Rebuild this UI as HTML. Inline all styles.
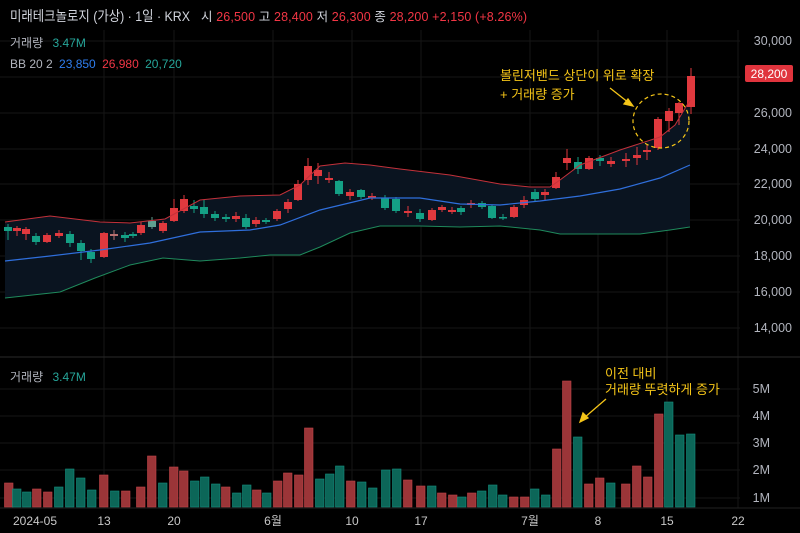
<!DOCTYPE html>
<html><head><meta charset="utf-8"><style>
body{margin:0;background:#000;width:800px;height:533px;overflow:hidden;font-family:"Liberation Sans","Noto Sans CJK KR",sans-serif}
svg{display:block}
text{font-family:"Liberation Sans","Noto Sans CJK KR",sans-serif}
</style></head><body>
<svg id="s" width="800" height="533" xmlns="http://www.w3.org/2000/svg">
<rect width="800" height="533" fill="#000"/>
<g id="grid" stroke="#161616" stroke-width="1"></g>
<path id="band" fill="#0a1420"/>
<g id="c"></g>
<g id="v"></g>
<polyline id="up" fill="none" stroke="#c3313a" stroke-width="1"/>
<polyline id="mid" fill="none" stroke="#2f6fdc" stroke-width="1.2"/>
<polyline id="lo" fill="none" stroke="#1f8a5c" stroke-width="1"/>
<line x1="0" y1="357" x2="800" y2="357" stroke="#2a2a2a"/>
<line x1="0" y1="508" x2="800" y2="508" stroke="#222"/>
<g font-size="12.5" fill="#b2b5be" text-anchor="end">
<text x="792" y="45">30,000</text><text x="792" y="117">26,000</text><text x="792" y="153">24,000</text><text x="792" y="188">22,000</text><text x="792" y="224">20,000</text><text x="792" y="260">18,000</text><text x="792" y="296">16,000</text><text x="792" y="332">14,000</text>
<text x="770" y="393">5M</text><text x="770" y="420">4M</text><text x="770" y="447">3M</text><text x="770" y="474">2M</text><text x="770" y="502">1M</text>
</g>
<rect x="745" y="65" width="48" height="17" rx="2" fill="#e0343d"/>
<text x="769" y="78" font-size="12" fill="#fff" text-anchor="middle">28,200</text>
<g font-size="12" fill="#c8c8c8" text-anchor="middle">
<text x="35" y="525">2024-05</text><text x="104" y="525">13</text><text x="174" y="525">20</text><text x="273" y="525">6월</text><text x="352" y="525">10</text><text x="421" y="525">17</text><text x="530" y="525">7월</text><text x="598" y="525">8</text><text x="667" y="525">15</text><text x="738" y="525">22</text>
</g>
<text x="10" y="21" font-size="14" fill="#d1d4dc" textLength="180" lengthAdjust="spacingAndGlyphs">미래테크놀로지 (가상) · 1일 · KRX</text>
<text x="201" y="21" font-size="12.5" fill="#d1d4dc" textLength="326" lengthAdjust="spacing">시 <tspan fill="#f23645">26,500</tspan>  고 <tspan fill="#f23645">28,400</tspan>  저 <tspan fill="#f23645">26,300</tspan>  종 <tspan fill="#f23645">28,200</tspan>  <tspan fill="#f23645">+2,150 (+8.26%)</tspan></text>
<text x="10" y="47" font-size="12" fill="#b2b5be">거래량 <tspan dx="6" fill="#26a69a">3.47M</tspan></text>
<text x="10" y="68" font-size="12" fill="#b2b5be">BB 20 2 <tspan dx="3" fill="#2f7ef0">23,850</tspan> <tspan dx="3" fill="#f23645">26,980</tspan> <tspan dx="3" fill="#26a69a">20,720</tspan></text>
<text x="10" y="381" font-size="12" fill="#b2b5be">거래량 <tspan dx="6" fill="#26a69a">3.47M</tspan></text>
<g font-size="13" fill="#f5c518">
<text x="500" y="80">볼린저밴드 상단이 위로 확장</text><text x="500" y="99">+ 거래량 증가</text>
<text x="605" y="378">이전 대비</text><text x="605" y="394">거래량 뚜렷하게 증가</text>
</g>
<g stroke="#f5c518" stroke-width="1.3" fill="#f5c518">
<line x1="610" y1="88" x2="629" y2="103"/><polygon points="633,106 624,104 628,99"/>
<line x1="606" y1="399" x2="584" y2="418"/><polygon points="580,422 583,413 588,418"/>
</g>
<ellipse cx="661" cy="121" rx="28" ry="27" fill="none" stroke="#f5c518" stroke-width="1.2" stroke-dasharray="4,3"/>
</svg>
<script>
var NS="http://www.w3.org/2000/svg";
function el(p,t,a){var e=document.createElementNS(NS,t);for(var k in a)e.setAttribute(k,a[k]);p.appendChild(e);return e;}
var g=document.getElementById('grid');
[41,77,113,149,184,220,256,292,328,389,416,443,470,498].forEach(function(y){el(g,'line',{x1:0,x2:740,y1:y,y2:y});});
[104,174,273,352,421,530,598,667,738].forEach(function(x){el(g,'line',{x1:x,x2:x,y1:30,y2:508});});
var up=[[5,222],[50,216],[100,222],[130,223],[165,219],[200,200],[240,196],[280,195],[300,185],[320,166],[345,163],[370,165],[400,169],[450,175],[500,184],[530,187],[550,187],[560,180],[580,165],[620,150],[660,137],[675,125],[690,100]];
var mid=[[5,261],[50,256],[100,250],[150,243],[200,232],[250,230],[280,225],[320,210],[370,198],[420,198],[460,204],[500,205],[540,201],[580,196],[620,189],[660,178],[690,165]];
var lo=[[5,298],[60,292],[95,278],[130,265],[163,258],[200,261],[240,258],[270,255],[300,255],[320,247],[350,233],[380,226],[420,226],[460,227],[500,226],[540,230],[560,234],[600,234],[640,234],[670,230],[690,227]];
function pts(a){return a.map(function(p){return p.join(',')}).join(' ');}
document.getElementById('up').setAttribute('points',pts(up));
document.getElementById('mid').setAttribute('points',pts(mid));
document.getElementById('lo').setAttribute('points',pts(lo));
document.getElementById('band').setAttribute('d','M'+pts(up)+' L'+pts(lo.slice().reverse())+'Z');
var R='#e0393e',G='#14a085';
var C=[[8,227,231,224,240,G],[17,228,231,226,236,R],[26,229,234,227,240,R],[36,236,242,233,245,G],[47,235,242,233,243,R],[59,233,236,230,238,R],[70,234,243,231,247,G],[81,243,251,240,260,G],[91,252,259,249,263,G],[104,233,257,232,258,R],[114,234,236,230,240,'#b87070'],[125,235,238,232,242,G],[133,234,236,232,238,G],[141,225,233,222,235,R],[152,221,227,217,229,'#5fa090'],[163,223,231,221,233,R],[174,208,221,199,222,R],[184,199,211,195,213,R],[194,206,209,200,213,G],[204,207,214,200,218,G],[215,214,218,211,221,G],[226,217,219,214,222,G],[236,216,219,212,222,R],[246,218,227,214,229,G],[256,220,224,217,227,R],[266,220,222,218,224,G],[277,211,219,209,221,R],[288,202,209,199,213,R],[298,184,200,180,201,R],[308,166,180,158,185,R],[318,170,176,163,184,R],[329,178,180,172,183,R],[339,181,194,180,196,G],[350,192,196,189,200,R],[361,190,197,189,199,G],[372,196,198,193,200,R],[385,198,208,195,210,G],[396,199,211,197,213,G],
[408,211,213,206,217,R],[420,213,219,209,222,G],[432,210,220,208,221,R],[442,207,210,205,212,R],[452,210,212,207,214,R],[461,208,212,206,215,G],[471,203,205,200,208,R],[482,203,207,201,209,G],[492,206,218,205,219,G],[503,217,218,214,220,G],[514,207,217,205,218,R],[524,200,205,196,208,R],[535,192,199,189,202,G],[545,192,195,189,200,R],[556,177,188,172,189,R],[567,158,163,149,170,R],[578,162,169,157,174,G],[589,158,169,156,170,R],[600,158,161,155,166,G],[611,161,164,157,167,R],[626,159,161,153,167,R],[637,155,158,147,165,R],[647,150,152,145,160,R],[658,119,148,117,150,R],[669,111,121,108,132,R],[679,103,113,102,125,R],[691,76,107,68,114,R]];
var cg=document.getElementById('c');
C.forEach(function(c){el(cg,'line',{x1:c[0],x2:c[0],y1:c[3],y2:c[4],stroke:c[5],'stroke-width':1});el(cg,'rect',{x:c[0]-4,y:c[1],width:8,height:Math.max(1.5,c[2]-c[1]),fill:c[5]});});
var VR='#9b3538',VG='#0c6658',VRb='#c04448',VGb='#159080';
var V=[[4,483,R],[12,489,G],[22,492,G],[32,489,R],[43,492,R],[54,487,G],[65,469,G],[76,478,G],[87,490,G],[99,475,R],[110,491,G],[121,491,R],[136,487,R],[147,456,R],[158,483,G],[169,467,R],[179,471,R],[190,481,G],[200,477,G],[211,484,G],[221,487,R],[232,493,G],[242,485,G],[252,490,R],[262,493,G],[273,481,R],[283,473,R],[294,475,R],[304,428,R],[315,479,G],[325,474,G],[335,466,G],[346,481,R],[357,482,G],[368,488,G],[381,470,G],[392,469,G],
[403,480,R],[416,486,R],[427,486,G],[437,493,R],[448,495,R],[457,497,G],[467,493,R],[477,491,G],[488,485,G],[498,495,G],[509,497,R],[520,497,R],[530,489,G],[541,495,G],[552,449,R],[562,381,R],[573,437,G],[584,484,R],[595,478,R],[606,483,G],[621,484,R],[632,466,R],[643,477,R],[654,414,R],[664,402,G],[675,435,G],[686,434,G]];
var vg=document.getElementById('v');
V.forEach(function(b){var r=b[2]==R;el(vg,'rect',{x:b[0]+0.5,y:b[1],width:8.5,height:507-b[1],fill:r?VR:VG,stroke:r?VRb:VGb,'stroke-width':0.6});});
</script>
</body></html>
